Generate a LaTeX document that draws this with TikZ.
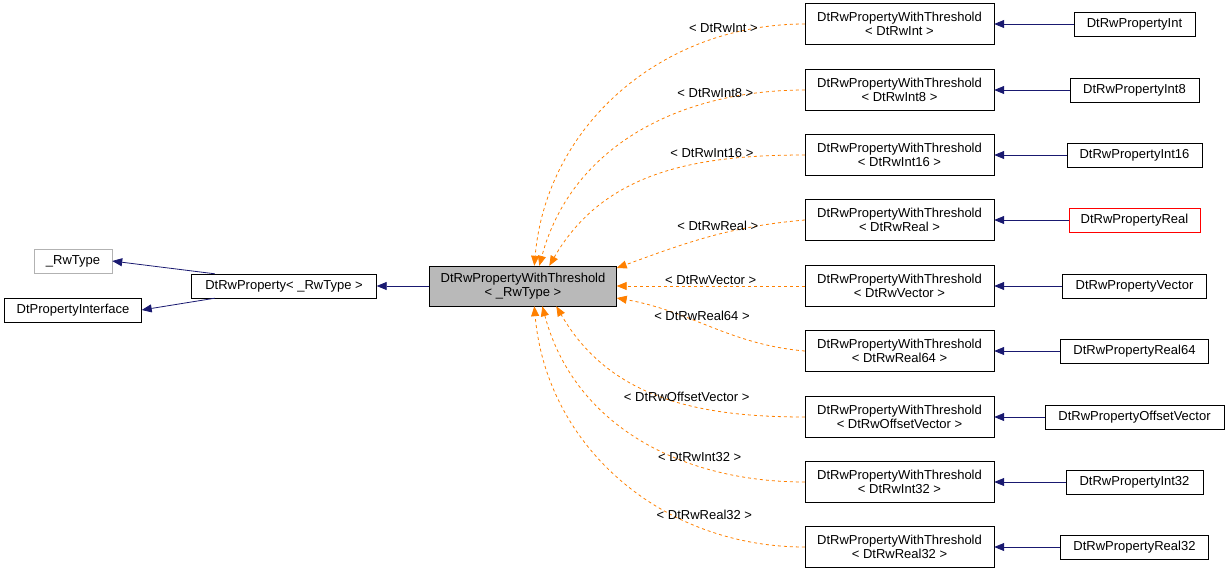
\documentclass[tikz,border=0pt]{standalone}
\usepackage{fontspec}
\setmainfont{Liberation Sans}
\usetikzlibrary{calc,arrows.meta}
\definecolor{mblue}{RGB}{25,25,112}
\begin{document}
\begin{tikzpicture}[x=1pt,y=-1pt,
  every node/.style={font=\fontsize{13}{14.5}\selectfont},
  bx/.style={draw=black,fill=white,rectangle,inner sep=0pt,minimum height=24pt,align=center},
  tb/.style={bx,minimum width=189pt,minimum height=41pt},
  inh/.style={draw=mblue,line width=0.8pt,-{Triangle[length=10pt,width=8pt,fill=mblue]}},
  tpl/.style={draw=orange,line width=0.8pt,dashed,-{Triangle[length=10pt,width=8pt,fill=orange]}},
  lb/.style={fill=none,inner sep=1pt}]
\useasboundingbox (0,0) rectangle (1229,573);
\node[bx,draw=gray!60,minimum width=78pt] (rw) at (73,261) {\_RwType};
\node[bx,minimum width=137pt] (pi) at (73,310) {DtPropertyInterface};
\node[bx,minimum width=185pt] (p) at (284,286) {DtRwProperty< \_RwType >};
\node[bx,fill=gray!55,minimum width=187pt,minimum height=40pt] (m) at (523,286) {DtRwPropertyWithThreshold\\< \_RwType >};
\foreach \n/\y/\t/\r/\w in {a/24/DtRwInt/DtRwPropertyInt/121, b/90/DtRwInt8/DtRwPropertyInt8/129, c/155/DtRwInt16/DtRwPropertyInt16/135, d/220/DtRwReal/DtRwPropertyReal/131, e/286/DtRwVector/DtRwPropertyVector/144, f/351/DtRwReal64/DtRwPropertyReal64/148, g/417/DtRwOffsetVector/DtRwPropertyOffsetVector/179, h/482/DtRwInt32/DtRwPropertyInt32/137, i/547/DtRwReal32/DtRwPropertyReal32/148}{
  \node[tb] (t\n) at (899.5,\y) {DtRwPropertyWithThreshold\\< \t\ >};
  \node[bx,minimum width=\w pt] (r\n) at (1134.5,\y) {\r};
  \draw[inh] (r\n) -- (t\n);
}
\node[bx,draw=red,minimum width=131pt] at (rd) {DtRwPropertyReal};
\draw[inh] (p.170) -- (rw.east);
\draw[inh] (p.190) -- (pi.east);
\draw[inh] (m) -- (p);
\draw[tpl] (ta.west) to[out=180,in=85] node[lb,pos=0.2,above=2pt] {< DtRwInt >} ($(m.north west)+(105,0)$);
\draw[tpl] (tb.west) to[out=180,in=75] node[lb,pos=0.25,above=2pt] {< DtRwInt8 >} ($(m.north west)+(110,0)$);
\draw[tpl] (tc.west) to[out=180,in=60] node[lb,pos=0.3,above=2pt] {< DtRwInt16 >} ($(m.north west)+(120,0)$);
\draw[tpl] (td.west) to[out=185,in=20] node[lb,pos=0.45,above=2pt] {< DtRwReal >} ($(m.east)+(0,-18)$);
\draw[tpl] (te.west) -- node[lb,above=0pt] {< DtRwVector >} (m.east);
\draw[tpl] (tf.west) to[out=175,in=-10] node[lb,pos=0.55,above=2pt] {< DtRwReal64 >} ($(m.east)+(0,12)$);
\draw[tpl] (tg.west) to[out=180,in=-60] node[lb,pos=0.4,above=2pt] {< DtRwOffsetVector >} ($(m.south west)+(127,0)$);
\draw[tpl] (th.west) to[out=180,in=-75] node[lb,pos=0.3,above=4pt] {< DtRwInt32 >} ($(m.south west)+(113,0)$);
\draw[tpl] (ti.west) to[out=180,in=-85] node[lb,pos=0.25,above=8pt] {< DtRwReal32 >} ($(m.south west)+(105,0)$);
\end{tikzpicture}
\end{document}
